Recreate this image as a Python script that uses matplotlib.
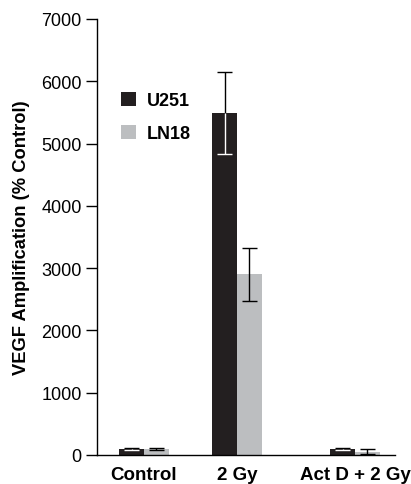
import matplotlib
matplotlib.use("Agg")
import matplotlib.pyplot as plt
import numpy as np

categories = ["Control", "2 Gy", "Act D + 2 Gy"]
series_names = ["U251", "LN18"]
u251 = [100, 5490, 100]
u251_err = [20, 665, 20]
ln18 = [100, 2905, 55]
ln18_err = [15, 425, 45]

positions = np.array([0.0, 1.0, 2.27])
width = 0.265
dark = "#231f20"
gray = "#bcbec0"

plt.rcParams['font.family'] = ['Liberation Sans', 'DejaVu Sans']

fig = plt.figure(figsize=(4.11, 4.85), dpi=100)
ax = fig.add_axes([0.236, 0.0598, 0.725, 0.899])

x1 = positions - width / 2
x2 = positions + width / 2
ax.bar(x1, u251, width, color=dark, label=series_names[0], zorder=2)
ax.bar(x2, ln18, width, color=gray, label=series_names[1], zorder=2)

cap = 0.08
u = np.array(u251); ue = np.array(u251_err)
l = np.array(ln18); le = np.array(ln18_err)
# U251: black above the bar, white inside the dark bar
ax.vlines(x1, u, u + ue, colors='black', lw=1, zorder=3)
ax.hlines(u + ue, x1 - cap, x1 + cap, colors='black', lw=1, zorder=3)
ax.vlines(x1, u - ue, u, colors='white', lw=1, zorder=3)
ax.hlines(u - ue, x1 - cap, x1 + cap, colors='white', lw=1, zorder=3)
# LN18: all black
ax.vlines(x2, l - le, l + le, colors='black', lw=1, zorder=3)
ax.hlines(l + le, x2 - cap, x2 + cap, colors='black', lw=1, zorder=3)
ax.hlines(l - le, x2 - cap, x2 + cap, colors='black', lw=1, zorder=3)

ax.set_xlim(-0.505, 2.70)
ax.set_ylim(0, 7000)
ax.set_yticks(range(0, 7001, 1000))
ax.tick_params(axis='y', direction='out', length=8, width=1, labelsize=13, pad=3)
ax.set_xticks(positions)
ax.set_xticklabels(categories, fontsize=13.5, fontweight='bold')
ax.tick_params(axis='x', length=0, pad=8)
for s in ['top', 'right']:
    ax.spines[s].set_visible(False)
for s in ['left', 'bottom']:
    ax.spines[s].set_linewidth(1)
ax.set_ylabel("VEGF Amplification (% Control)", fontsize=13.2, fontweight='bold', labelpad=8)

leg = ax.legend(loc='upper left', bbox_to_anchor=(0.025, 0.87), frameon=False,
                prop={'weight': 'bold', 'size': 13}, handlelength=0.85, handleheight=0.85,
                handletextpad=0.6, labelspacing=0.85)

fig.savefig("out.png", dpi=100)
